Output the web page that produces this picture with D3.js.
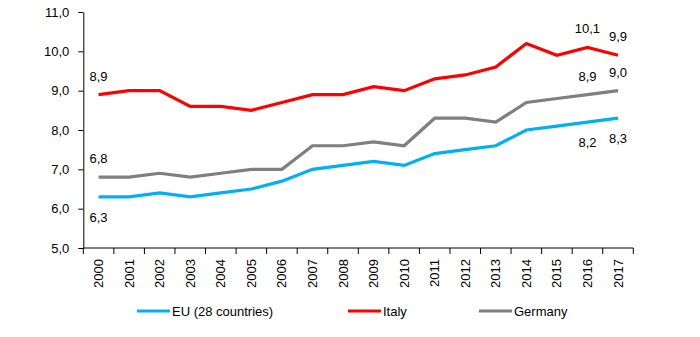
<!DOCTYPE html>
<html>
<head>
<meta charset="utf-8">
<script src="https://cdn.jsdelivr.net/npm/d3@7"></script>
<style>
  body { margin: 0; background: #fff; }
  text { font-family: "Liberation Sans", Arial, sans-serif; fill: #000; }
</style>
</head>
<body>
<div id="container"></div>
<script>
// data
const years = ["2000","2001","2002","2003","2004","2005","2006","2007","2008",
               "2009","2010","2011","2012","2013","2014","2015","2016","2017"];
const euValues = [6.3,6.3,6.4,6.3,6.4,6.5,6.7,7.0,7.1,7.2,7.1,7.4,7.5,7.6,8.0,8.1,8.2,8.3];
const italyValues = [8.9,9.0,9.0,8.6,8.6,8.5,8.7,8.9,8.9,9.1,9.0,9.3,9.4,9.6,10.2,9.9,10.1,9.9];
const germanyValues = [6.8,6.8,6.9,6.8,6.9,7.0,7.0,7.6,7.6,7.7,7.6,8.3,8.3,8.2,8.7,8.8,8.9,9.0];
const seriesNames = ["EU (28 countries)", "Italy", "Germany"];
const seriesColors = ["#00B0F0", "#FF0000", "#7F7F7F"];
const yTicks = [5, 6, 7, 8, 9, 10, 11];
// which years get a value label
const labelYears = ["2000", "2016", "2017"];

const width = 700, height = 337;
const plotLeft = 83.3, plotRight = 633.3, plotTop = 12, plotBottom = 248;

const comma = v => d3.format(".1f")(v).replace(".", ",");

const svg = d3.select("#container").append("svg")
    .attr("width", width)
    .attr("height", height);

const x = d3.scaleBand().domain(years).range([plotLeft, plotRight]);
const y = d3.scaleLinear().domain([5, 11]).range([plotBottom, plotTop]);

// y axis
const yAxis = svg.append("g")
    .attr("transform", `translate(${plotLeft},0)`)
    .call(d3.axisLeft(y).tickValues(yTicks).tickSize(5).tickSizeOuter(0)
        .tickPadding(9).tickFormat(comma));
yAxis.selectAll("text").style("font-size", "13px");
yAxis.selectAll("line, path").attr("stroke", "#000");

// x axis: line plus ticks on band edges
const xAxis = svg.append("g").attr("class", "x-axis");
xAxis.append("line")
    .attr("x1", plotLeft).attr("x2", plotRight)
    .attr("y1", plotBottom).attr("y2", plotBottom)
    .attr("stroke", "#000");
const edges = years.map(d => x(d)).concat([x.range()[1]]);
xAxis.selectAll(".tick")
    .data(edges)
    .join("line")
    .attr("class", "tick")
    .attr("x1", d => d).attr("x2", d => d)
    .attr("y1", plotBottom).attr("y2", plotBottom + 6)
    .attr("stroke", "#000");
xAxis.selectAll(".year")
    .data(years)
    .join("text")
    .attr("class", "year")
    .attr("transform", d => `translate(${x(d) + x.bandwidth() / 2},${plotBottom + 11}) rotate(-90)`)
    .attr("text-anchor", "end")
    .attr("dy", "0.35em")
    .style("font-size", "13px")
    .text(d => d);

// lines
const series = [euValues, italyValues, germanyValues].map((vals, i) => ({
    name: seriesNames[i],
    color: seriesColors[i],
    values: vals.map((v, j) => ({ year: years[j], value: v }))
}));

const line = d3.line()
    .x(d => x(d.year) + x.bandwidth() / 2)
    .y(d => y(d.value));

svg.selectAll(".series")
    .data(series)
    .join("path")
    .attr("class", "series")
    .attr("fill", "none")
    .attr("stroke", d => d.color)
    .attr("stroke-width", 3.2)
    .attr("stroke-linejoin", "miter")
    .attr("d", d => line(d.values));

// value labels: EU below, others above
series.forEach((s, i) => {
    const below = i === 0;
    svg.selectAll(null)
        .data(s.values.filter(d => labelYears.includes(d.year)))
        .join("text")
        .attr("x", d => x(d.year) + x.bandwidth() / 2)
        .attr("y", d => y(d.value) + (below ? 25 : -14))
        .attr("text-anchor", "middle")
        .style("font-size", "13px")
        .text(d => comma(d.value));
});

// legend
const legendX = [137, 348, 479];
const legend = svg.selectAll(".legend")
    .data(series)
    .join("g")
    .attr("class", "legend")
    .attr("transform", (d, i) => `translate(${legendX[i]},311)`);
legend.append("line")
    .attr("x1", 0).attr("x2", 33)
    .attr("stroke", d => d.color)
    .attr("stroke-width", 3.2);
legend.append("text")
    .attr("x", 35)
    .attr("dy", "0.35em")
    .style("font-size", "13px")
    .text(d => d.name);
</script>
</body>
</html>
